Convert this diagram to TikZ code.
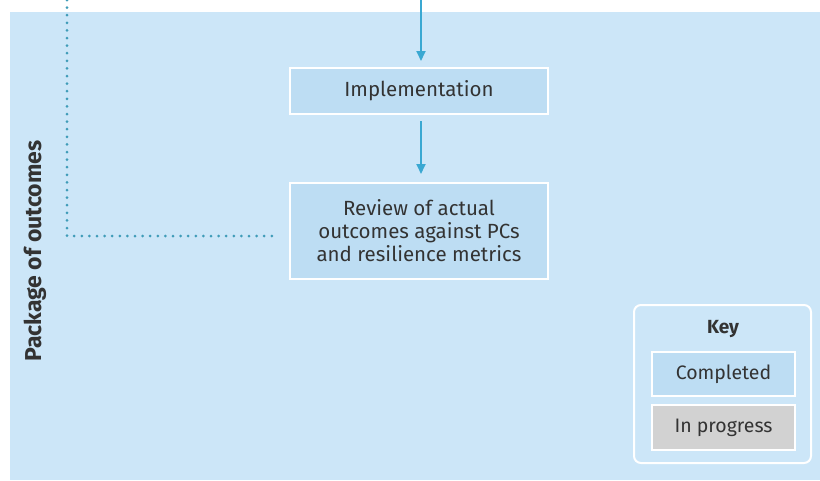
\documentclass[tikz,border=0pt]{standalone}
\usepackage{fontspec}
\setmainfont{Fira Sans}
\usetikzlibrary{arrows.meta}
\definecolor{panelblue}{HTML}{CCE6F8}
\definecolor{boxblue}{HTML}{BDDDF3}
\definecolor{boxgrey}{HTML}{D2D2D2}
\definecolor{flowblue}{HTML}{3AA8D2}
\definecolor{dotteal}{HTML}{3F9CB8}
\definecolor{labelgrey}{HTML}{333333}
\tikzset{
  x=1pt, y=-1pt,
  stagebox/.style={draw=white, line width=1.8pt, fill=boxblue, text=labelgrey,
    font=\fontsize{20.5}{23}\selectfont, align=center, inner sep=0pt},
  flow/.style={draw=flowblue, line width=1.8pt, -{Triangle[length=10pt,width=9pt]}},
  dotlink/.style={draw=dotteal, line width=3pt, line cap=round, dash pattern=on 0pt off 7.6pt},
}
\begin{document}
\begin{tikzpicture}
\useasboundingbox (0,0) rectangle (820,480);
\fill[white] (0,0) rectangle (820,480);
% main panel
\fill[panelblue] (10,12) rectangle (820,480);

% side label
\node[rotate=90, font=\bfseries\fontsize{23}{25}\selectfont, text=labelgrey] (pkg) at (35,251) {Package of outcomes};

% stages
\node[stagebox, minimum width=258pt, minimum height=46pt] (impl) at (419,91) {Implementation};
\node[stagebox, minimum width=258pt, minimum height=96pt] (review) at (419,231)
  {Review of actual\\outcomes against PCs\\and resilience metrics};

% flow arrows (stop short of the boxes)
\coordinate (top) at (421,0);
\coordinate (a1end) at (421,61);
\coordinate (a2start) at (421,121);
\coordinate (a2end) at (421,174);
\draw[flow] (top) -- (a1end);
\draw[flow] (a2start) -- (a2end);

% dotted link from the left
\coordinate (dtop) at (67,0);
\coordinate (dcorner) at (67,236);
\coordinate (dend) at (275,236);
\draw[dotlink] (dtop) -- (dcorner) -- (dend);

% key
\node[draw=white, line width=2pt, rounded corners=7pt, minimum width=177pt, minimum height=158pt] (key) at (722.5,384) {};
\node[font=\bfseries\fontsize{19}{21}\selectfont, text=labelgrey] (keytitle) at (723,329) {Key};
\node[stagebox, font=\fontsize{19.5}{21}\selectfont, minimum width=143pt, minimum height=44pt] (done) at (723.5,374) {Completed};
\node[stagebox, font=\fontsize{19.5}{21}\selectfont, fill=boxgrey, minimum width=143pt, minimum height=45pt] (wip) at (723.5,427.5) {In progress};
\end{tikzpicture}
\end{document}
